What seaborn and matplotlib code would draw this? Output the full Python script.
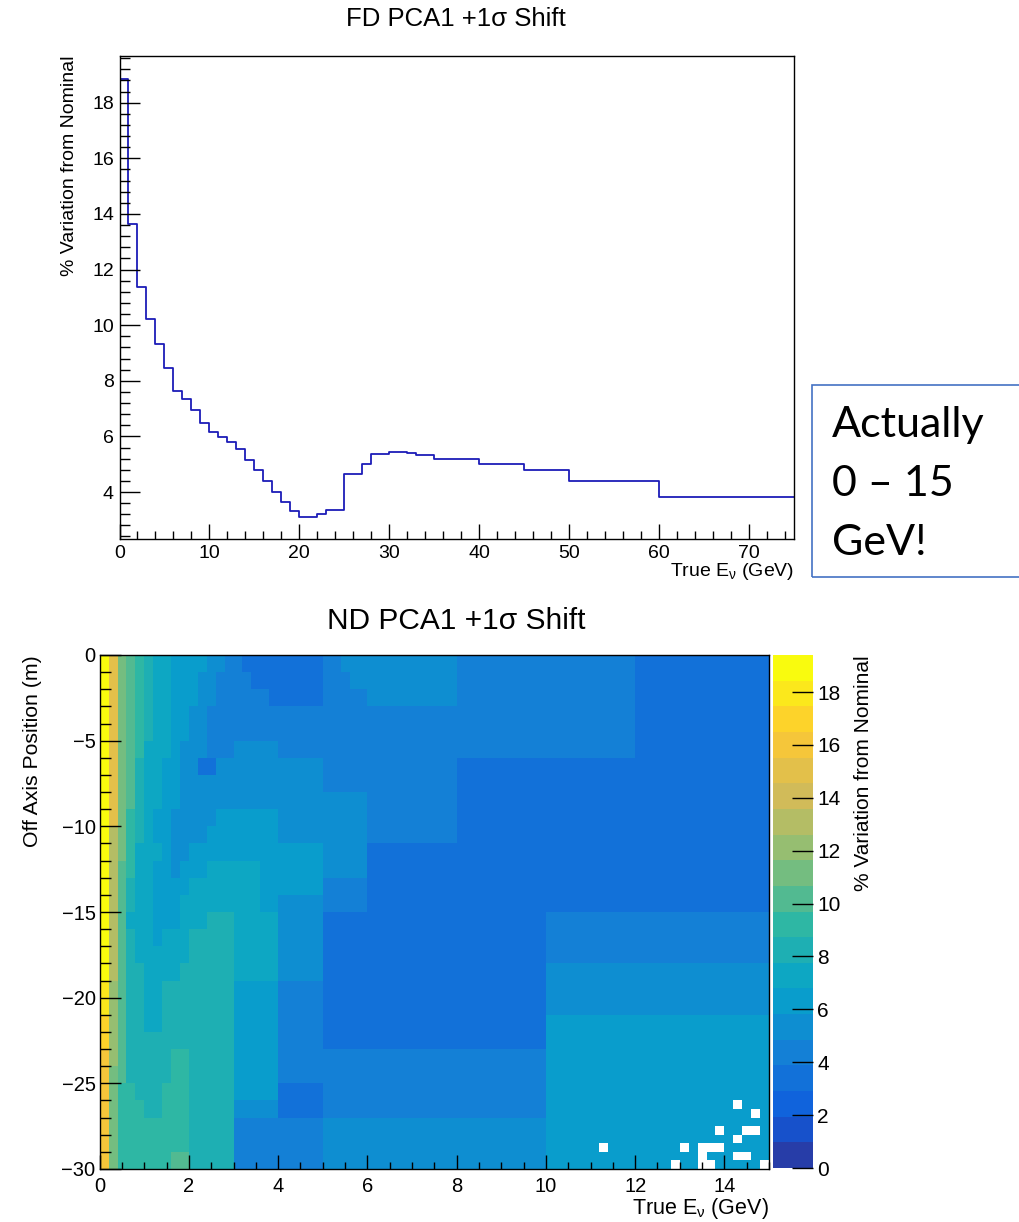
import numpy as np
import pandas as pd
import matplotlib
matplotlib.use("Agg")
import matplotlib.pyplot as plt
import seaborn as sns
from matplotlib.colors import LinearSegmentedColormap, ListedColormap, BoundaryNorm
from matplotlib.ticker import MultipleLocator, FixedLocator
from matplotlib.patches import Rectangle

# ---------------- data ----------------
# FD: % variation per true-energy bin (variable bin edges, GeV)
fd_edges = [0, 1, 2, 3, 4, 5, 6, 7, 8, 9, 10, 11, 12, 13, 14, 15, 16, 17, 18, 19, 20,
            22, 23, 25, 27, 28, 30, 32, 33, 35, 40, 45, 50, 60, 75]
fd_values = [18.85, 13.63, 11.39, 10.21, 9.31, 8.47, 7.64, 7.33, 6.95, 6.49,
             6.16, 5.97, 5.81, 5.55, 5.16, 4.79, 4.41, 4.00, 3.63, 3.33,
             3.09, 3.20, 3.36, 4.65, 5.00, 5.37, 5.44, 5.40, 5.34, 5.18,
             5.00, 4.79, 4.38, 3.81]

# ND: 75 energy bins of 0.2 GeV (0-15 GeV); rows of 1 m (0 to -30 m),
# each row given as runs of (value %, number of energy bins)
nd_e_width = 0.2
nd_row_height = 1.0
nd_runs = [
    [(19.4, 1), (15.0, 1), (11.2, 1), (10.2, 1), (9.2, 1), (8.3, 1), (7.3, 2), (6.3, 4), (5.3, 2), (4.4, 2), (3.4, 9), (4.4, 2), (5.3, 13), (4.4, 20), (3.4, 15)],
    [(19.0, 1), (15.0, 1), (11.2, 1), (10.2, 1), (9.2, 1), (8.3, 1), (7.3, 2), (6.3, 3), (5.3, 2), (4.4, 4), (3.4, 8), (4.4, 3), (5.3, 12), (4.4, 20), (3.4, 15)],
    [(19.0, 1), (15.0, 1), (11.2, 1), (10.2, 1), (9.2, 1), (8.3, 1), (7.3, 2), (6.3, 3), (5.3, 2), (4.4, 6), (3.4, 6), (4.4, 5), (5.3, 10), (4.4, 20), (3.4, 15)],
    [(19.0, 1), (15.0, 1), (11.2, 1), (10.2, 1), (9.2, 1), (8.3, 1), (7.3, 2), (6.3, 2), (5.3, 2), (4.4, 48), (3.4, 15)],
    [(19.0, 1), (15.0, 1), (11.2, 1), (10.2, 1), (9.2, 1), (8.3, 1), (7.3, 2), (6.3, 2), (5.3, 2), (4.4, 48), (3.4, 15)],
    [(19.0, 1), (15.0, 1), (11.2, 1), (10.2, 1), (9.2, 1), (7.3, 3), (6.3, 1), (5.3, 3), (4.4, 3), (5.3, 5), (4.4, 40), (3.4, 15)],
    [(19.0, 1), (15.0, 1), (11.2, 1), (10.2, 1), (8.3, 1), (7.3, 2), (6.3, 2), (5.3, 2), (3.4, 2), (5.3, 12), (4.4, 15), (3.4, 35)],
    [(19.0, 1), (15.0, 1), (11.2, 1), (10.2, 1), (8.3, 1), (7.3, 2), (6.3, 2), (5.3, 16), (4.4, 15), (3.4, 35)],
    [(19.0, 1), (15.0, 1), (11.2, 1), (10.2, 1), (8.3, 1), (7.3, 2), (6.3, 2), (5.3, 21), (4.4, 10), (3.4, 35)],
    [(19.0, 1), (15.0, 1), (11.2, 1), (9.2, 1), (8.3, 1), (7.3, 1), (6.3, 2), (5.3, 5), (6.3, 7), (5.3, 10), (4.4, 10), (3.4, 35)],
    [(19.0, 1), (13.1, 1), (11.2, 1), (9.2, 1), (8.3, 1), (7.3, 1), (6.3, 2), (5.3, 4), (6.3, 8), (5.3, 10), (4.4, 10), (3.4, 35)],
    [(19.0, 1), (13.1, 1), (11.2, 1), (9.2, 1), (7.3, 3), (6.3, 1), (5.3, 2), (6.3, 15), (5.3, 5), (3.4, 45)],
    [(19.0, 1), (13.1, 1), (10.2, 1), (9.2, 1), (7.3, 2), (6.3, 2), (5.3, 1), (6.3, 3), (7.3, 6), (6.3, 7), (5.3, 5), (3.4, 45)],
    [(19.0, 1), (13.1, 1), (10.2, 1), (8.3, 1), (7.3, 2), (6.3, 4), (7.3, 8), (6.3, 7), (4.4, 5), (3.4, 45)],
    [(19.0, 1), (13.1, 1), (10.2, 1), (8.3, 1), (7.3, 2), (6.3, 3), (7.3, 9), (6.3, 2), (5.3, 5), (4.4, 5), (3.4, 45)],
    [(19.0, 1), (13.1, 1), (10.2, 1), (7.3, 3), (6.3, 3), (7.3, 3), (8.3, 3), (7.3, 5), (5.3, 5), (3.4, 25), (4.4, 25)],
    [(19.0, 1), (13.1, 1), (10.2, 1), (8.3, 1), (7.3, 2), (6.3, 1), (7.3, 3), (8.3, 5), (7.3, 5), (5.3, 5), (3.4, 25), (4.4, 25)],
    [(19.0, 1), (13.1, 1), (10.2, 1), (8.3, 1), (7.3, 6), (8.3, 5), (7.3, 5), (5.3, 5), (3.4, 25), (4.4, 25)],
    [(19.0, 1), (13.1, 1), (10.2, 1), (8.3, 2), (7.3, 4), (8.3, 6), (7.3, 5), (5.3, 5), (3.4, 25), (5.3, 25)],
    [(18.0, 1), (12.1, 1), (10.2, 1), (8.3, 2), (7.3, 2), (8.3, 8), (6.3, 5), (4.4, 5), (3.4, 25), (5.3, 25)],
    [(18.0, 1), (12.1, 1), (10.2, 1), (8.3, 2), (7.3, 2), (8.3, 8), (6.3, 5), (4.4, 5), (3.4, 25), (5.3, 25)],
    [(17.0, 1), (12.1, 1), (10.2, 1), (8.3, 2), (7.3, 2), (8.3, 8), (6.3, 5), (4.4, 5), (3.4, 25), (6.3, 25)],
    [(17.0, 1), (12.1, 1), (10.2, 1), (8.3, 12), (6.3, 5), (4.4, 5), (3.4, 25), (6.3, 25)],
    [(16.0, 1), (12.1, 1), (10.2, 1), (8.3, 5), (9.2, 2), (8.3, 5), (6.3, 5), (4.4, 30), (6.3, 25)],
    [(16.0, 1), (11.2, 1), (10.2, 1), (8.3, 5), (9.2, 2), (8.3, 5), (6.3, 5), (4.4, 30), (6.3, 25)],
    [(16.0, 1), (11.2, 1), (9.2, 2), (8.3, 3), (9.2, 3), (8.3, 5), (6.3, 5), (3.4, 5), (4.4, 25), (6.3, 25)],
    [(16.0, 1), (11.2, 1), (9.2, 3), (8.3, 2), (9.2, 3), (8.3, 5), (5.3, 5), (3.4, 5), (4.4, 25), (6.3, 25)],
    [(16.0, 1), (11.2, 1), (9.2, 8), (8.3, 5), (4.4, 10), (5.3, 25), (6.3, 25)],
    [(16.0, 1), (11.2, 1), (9.2, 8), (8.3, 5), (4.4, 10), (5.3, 25), (6.3, 25)],
    [(16.0, 1), (11.2, 1), (9.2, 6), (10.2, 2), (8.3, 5), (4.4, 10), (5.3, 25), (6.3, 25)],
]
# empty (white) cells on the fine 0.5 m grid: (half-metre row, energy bin)
nd_empty = [(52, 71), (53, 73), (55, 69), (55, 72), (55, 73), (56, 71),
            (57, 56), (57, 65), (57, 67), (57, 68), (57, 69),
            (58, 67), (58, 71), (58, 72),
            (59, 64), (59, 67), (59, 68), (59, 74)]

fd_xticks = [0, 10, 20, 30, 40, 50, 60, 70]
fd_yticks = [4, 6, 8, 10, 12, 14, 16, 18]
nd_xticks = [0, 2, 4, 6, 8, 10, 12, 14]
nd_yticks = [0, -5, -10, -15, -20, -25, -30]
cb_ticks = [0, 2, 4, 6, 8, 10, 12, 14, 16, 18]

# ---------------- style ----------------
sns.set_style("white")
plt.rcParams["font.family"] = ["Liberation Sans", "DejaVu Sans"]
plt.rcParams["mathtext.fontset"] = "custom"
plt.rcParams["mathtext.rm"] = "Liberation Sans"
plt.rcParams["mathtext.it"] = "Liberation Sans:italic"
for key in ["text.color", "axes.labelcolor", "xtick.color", "ytick.color", "axes.edgecolor"]:
    plt.rcParams[key] = "black"
plt.rcParams["axes.axisbelow"] = False

W, H = 1019, 1222
fig = plt.figure(figsize=(W / 100, H / 100), dpi=100)


def fx(px):
    return px / W


def fy(py):
    return 1 - py / H


PT = 0.72  # points per pixel at 100 dpi
NU = "E$_{\\mathrm{ν}}$"

# ---------------- FD histogram ----------------
ax1 = fig.add_axes([fx(119.5), fy(539), fx(794) - fx(119.5), fy(56) - fy(539)])
edges = np.array(fd_edges, dtype=float)
fd_df = pd.DataFrame({"E": (edges[:-1] + edges[1:]) / 2, "pct": fd_values})
sns.histplot(data=fd_df, x="E", weights="pct", bins=fd_edges, element="step",
             fill=False, color="#1c1cb8", linewidth=1.3, ax=ax1)
ax1.set_axisbelow(False)
ax1.set_xlim(0, 75)
ax1.set_ylim(2.31, 19.68)
ax1.xaxis.set_major_locator(FixedLocator(fd_xticks))
ax1.xaxis.set_minor_locator(MultipleLocator(2))
ax1.yaxis.set_major_locator(FixedLocator(fd_yticks))
ax1.yaxis.set_minor_locator(MultipleLocator(0.4))
ax1.tick_params(which="both", direction="in", bottom=True, left=True, top=False, right=False,
                color="black", width=1.0, labelsize=14)
ax1.tick_params(axis="y", which="major", length=20 * PT, pad=4)
ax1.tick_params(axis="y", which="minor", length=10 * PT)
ax1.tick_params(axis="x", which="major", length=15 * PT, pad=4)
ax1.tick_params(axis="x", which="minor", length=8 * PT)
for s in ax1.spines.values():
    s.set_visible(True)
    s.set_color("black")
    s.set_linewidth(1.0)
ax1.set_ylabel("% Variation from Nominal", fontsize=14, loc="top")
ax1.yaxis.set_label_coords(-0.062, 1.0)
ax1.set_xlabel("True " + NU + " (GeV)", fontsize=14, loc="right")
ax1.xaxis.set_label_coords(1.0, -0.046)
fig.text(fx(456), fy(19), "FD PCA1 +1σ Shift", ha="center", va="center", fontsize=18.5)

# ---------------- ND heatmap ----------------
coarse = np.array([np.concatenate([np.full(n, v) for v, n in runs]) for runs in nd_runs])
fine = np.repeat(coarse, 2, axis=0)
for r, c in nd_empty:
    fine[r, c] = np.nan
fine_h = nd_row_height / 2

stops = [0.0, 0.125, 0.25, 0.375, 0.5, 0.625, 0.75, 0.875, 1.0]
red = [0.2082, 0.0592, 0.0780, 0.0232, 0.1802, 0.5301, 0.8186, 0.9956, 0.9764]
green = [0.1664, 0.3599, 0.5041, 0.6419, 0.7178, 0.7492, 0.7328, 0.7862, 0.9832]
blue = [0.5293, 0.8684, 0.8385, 0.7914, 0.6425, 0.4662, 0.3499, 0.1968, 0.0539]
bird = LinearSegmentedColormap.from_list(
    "kBird", [(s, (r, g, b)) for s, r, g, b in zip(stops, red, green, blue)], N=255)
nlev = 20
band_cols = [bird(int((i + 0.99) * 255 / nlev) / 254) for i in range(nlev)]
cmap = ListedColormap(band_cols)
zmax = np.nanmax(fine)
levels = np.linspace(0, zmax, nlev + 1)
norm = BoundaryNorm(levels, nlev)

ax2 = fig.add_axes([fx(99.7), fy(1169), fx(769) - fx(99.7), fy(655) - fy(1169)])
cax = fig.add_axes([fx(773), fy(1168), fx(813) - fx(773), fy(655) - fy(1168)])
sns.heatmap(fine, ax=ax2, cmap=cmap, norm=norm, cbar_ax=cax,
            xticklabels=False, yticklabels=False, linewidths=0)
ax2.set_axisbelow(False)
cax.set_axisbelow(False)

ax2.set_xticks([e / nd_e_width for e in nd_xticks], labels=[str(t) for t in nd_xticks])
ax2.set_xticks(np.arange(0, 15.01, 0.5) / nd_e_width, minor=True)
ax2.set_yticks([-y / fine_h for y in nd_yticks],
               labels=[("−" + str(-t)) if t < 0 else str(t) for t in nd_yticks], rotation=0)
ax2.set_yticks(np.arange(0, 30.01, 1.0) / fine_h, minor=True)
ax2.tick_params(which="both", direction="in", bottom=True, left=True, top=False, right=False,
                color="black", width=1.0, labelsize=14.5)
ax2.tick_params(axis="y", which="major", length=21 * PT, pad=3)
ax2.tick_params(axis="y", which="minor", length=10.5 * PT)
ax2.tick_params(axis="x", which="major", length=14.5 * PT, pad=6)
ax2.tick_params(axis="x", which="minor", length=7.5 * PT)
for lab in ax2.get_yticklabels():
    lab.set_rotation(0)
for s in ax2.spines.values():
    s.set_visible(True)
    s.set_color("black")
    s.set_linewidth(1.0)
ax2.set_xlabel("True " + NU + " (GeV)", fontsize=15.5, loc="right")
ax2.xaxis.set_label_coords(1.0, -0.052)
ax2.set_ylabel("Off Axis Position (m)", fontsize=15.3, loc="top")
ax2.yaxis.set_label_coords(-0.086, 1.0)
fig.text(fx(456), fy(621), "ND PCA1 +1σ Shift", ha="center", va="center", fontsize=21.5)

cbar = ax2.collections[0].colorbar
cbar.set_ticks(cb_ticks)
cbar.set_ticklabels([str(t) for t in cb_ticks])
cbar.outline.set_visible(False)
cax.yaxis.set_ticks_position("right")
cax.tick_params(axis="y", which="major", direction="in", length=21 * PT, width=1.0,
                color="black", labelsize=15, pad=3)
cax.minorticks_off()
cax.yaxis.set_label_position("right")
cax.set_ylabel("% Variation from Nominal", fontsize=15, loc="top", labelpad=10)

# ---------------- annotation box ----------------
fig.patches.append(Rectangle((fx(812), fy(577)), fx(1040) - fx(812), fy(385) - fy(577),
                             transform=fig.transFigure, fill=False,
                             edgecolor="#4472C4", linewidth=1.2, clip_on=False))
fig.text(fx(832), fy(406), "Actually\n0 – 15\nGeV!", ha="left", va="top",
         fontsize=31, family=["Lato", "DejaVu Sans"], linespacing=1.68, color="black")

fig.savefig("out.png", dpi=100)
